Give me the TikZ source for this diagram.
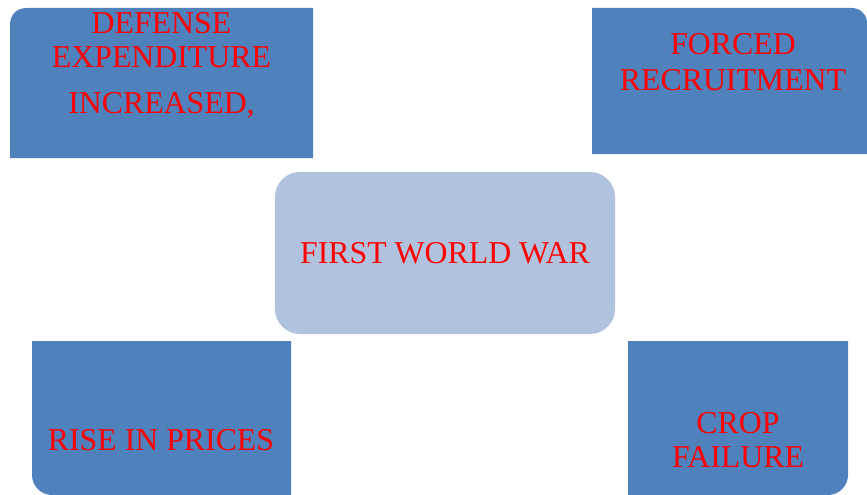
\documentclass[tikz,border=0pt]{standalone}
\usepackage{fontspec}
\setmainfont{Liberation Serif}
\definecolor{boxblue}{HTML}{4F81BD}
\definecolor{centerblue}{HTML}{B0C2DD}
\definecolor{txtred}{HTML}{FF0000}
\begin{document}
\begin{tikzpicture}[x=1pt,y=-1pt,
  lbl/.style={anchor=base,inner sep=0pt,text=txtred,font=\fontsize{31.8}{34}\selectfont}]
\useasboundingbox (0,0) rectangle (867,495);
\fill[white] (0,0) rectangle (867,495);
% top-left box
\fill[boxblue] (313,158) -- (10,158) -- (10,25) .. controls (10,15.6) and (15.6,8) .. (27,8) -- (313,8) -- cycle;
% top-right box
\fill[boxblue] (592,8) -- (852,8) .. controls (860.3,8) and (867,14.7) .. (867,23) -- (867,154) -- (592,154) -- cycle;
% bottom-left box
\fill[boxblue] (32,341) -- (291,341) -- (291,495) -- (52,495) .. controls (41,495) and (32,486) .. (32,475) -- cycle;
% bottom-right box
\fill[boxblue] (628,341) -- (848,341) -- (848,475) .. controls (848,486) and (839,495) .. (828,495) -- (628,495) -- cycle;
% centre box
\fill[centerblue,rounded corners=25pt] (275,172) rectangle (615,334);
% texts
\node[lbl] (d1) at (161.5,33.5) {DEFENSE};
\node[lbl] (d2) at (161.5,67) {EXPENDITURE};
\node[lbl] (d3) at (161.5,113) {INCREASED,};
\node[lbl] (f1) at (733,55) {FORCED};
\node[lbl] (f2) at (733,90) {RECRUITMENT};
\node[lbl] (w) at (445,263) {FIRST WORLD WAR};
\node[lbl] (r) at (161,450) {RISE IN PRICES};
\node[lbl] (c1) at (738,433) {CROP};
\node[lbl] (c2) at (738,467) {FAILURE};
\end{tikzpicture}
\end{document}
